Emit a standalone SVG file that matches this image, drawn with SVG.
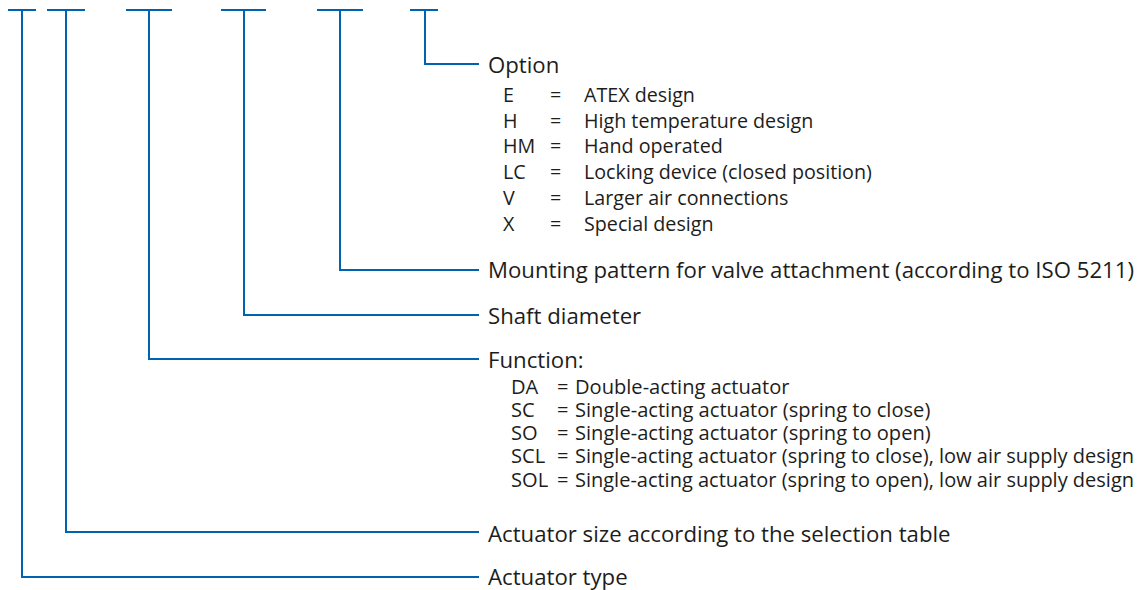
<svg xmlns="http://www.w3.org/2000/svg" width="1139" height="590" viewBox="0 0 1139 590">
<style>
.ln{stroke:#0063AF;stroke-width:2;fill:none;stroke-linecap:butt}
text{font-family:"Open Sans","Noto Sans",sans-serif;fill:#1d1d1b}
.m{font-size:22.2px}
.s{font-size:19.7px}
.f{font-size:20.1px}
</style>
<rect width="1139" height="590" fill="#ffffff"/>
<g id="connectors">
<path class="ln" d="M8 10H36M22 10V577H479"/>
<path class="ln" d="M47 10H85M66 10V532H479"/>
<path class="ln" d="M126 10H172M149 10V359H479"/>
<path class="ln" d="M221 10H266M244 10V315H479"/>
<path class="ln" d="M317 10H363M340 10V270H479"/>
<path class="ln" d="M410 10H438M425 10V64H479"/>
</g>
<g id="option">
<text class="m" x="488" y="73">Option</text>
<text class="s" x="503" y="102">E</text><text class="s" x="550" y="102">=</text><text class="s" x="584" y="102">ATEX design</text>
<text class="s" x="503" y="128">H</text><text class="s" x="550" y="128">=</text><text class="s" x="584" y="128">High temperature design</text>
<text class="s" x="503" y="153">HM</text><text class="s" x="550" y="153">=</text><text class="s" x="584" y="153">Hand operated</text>
<text class="s" x="503" y="179">LC</text><text class="s" x="550" y="179">=</text><text class="s" x="584" y="179">Locking device (closed position)</text>
<text class="s" x="503" y="205">V</text><text class="s" x="550" y="205">=</text><text class="s" x="584" y="205">Larger air connections</text>
<text class="s" x="503" y="231">X</text><text class="s" x="550" y="231">=</text><text class="s" x="584" y="231">Special design</text>
</g>
<g id="mounting"><text class="m" x="488" y="278" textLength="646" lengthAdjust="spacingAndGlyphs">Mounting pattern for valve attachment (according to ISO 5211)</text></g>
<g id="shaft"><text class="m" x="488" y="324">Shaft diameter</text></g>
<g id="function">
<text class="m" x="488" y="368">Function:</text>
<text class="f" x="511" y="394">DA</text><text class="f" x="557" y="394">=</text><text class="f" x="575" y="394">Double-acting actuator</text>
<text class="f" x="511" y="417">SC</text><text class="f" x="557" y="417">=</text><text class="f" x="575" y="417">Single-acting actuator (spring to close)</text>
<text class="f" x="511" y="440">SO</text><text class="f" x="557" y="440">=</text><text class="f" x="575" y="440">Single-acting actuator (spring to open)</text>
<text class="f" x="511" y="463">SCL</text><text class="f" x="557" y="463">=</text><text class="f" x="575" y="463" textLength="559" lengthAdjust="spacingAndGlyphs">Single-acting actuator (spring to close), low air supply design</text>
<text class="f" x="511" y="487">SOL</text><text class="f" x="557" y="487">=</text><text class="f" x="575" y="487" textLength="559" lengthAdjust="spacingAndGlyphs">Single-acting actuator (spring to open), low air supply design</text>
</g>
<g id="size"><text class="m" x="488" y="542">Actuator size according to the selection table</text></g>
<g id="type"><text class="m" x="488" y="585">Actuator type</text></g>
</svg>
